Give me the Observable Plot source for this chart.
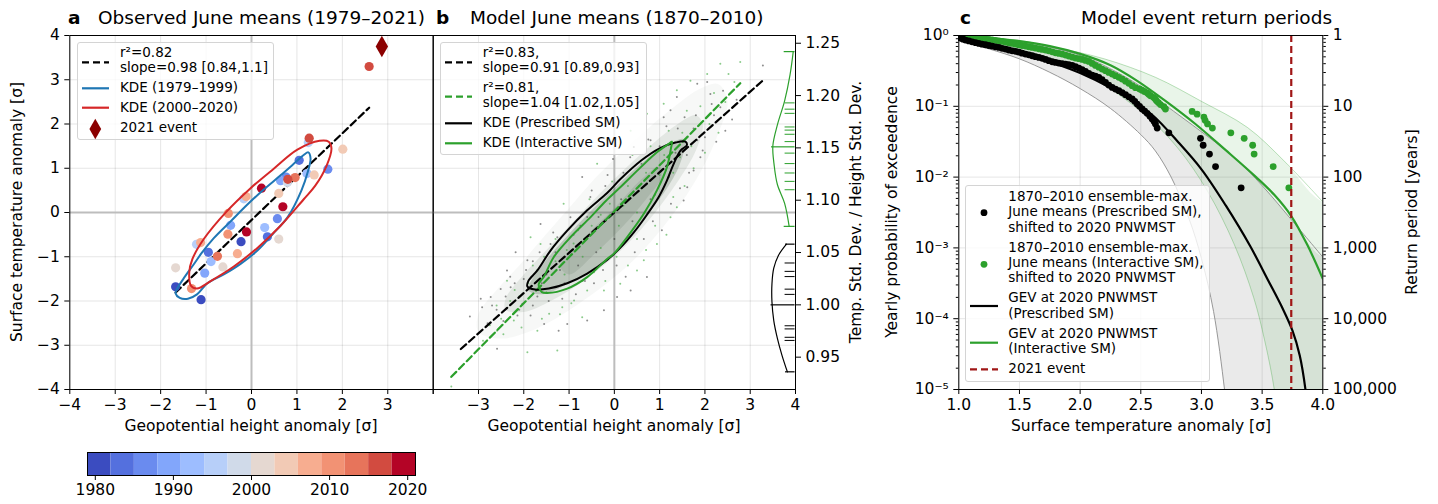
<!DOCTYPE html>
<html>
<head>
<meta charset="utf-8">
<script src="https://cdn.jsdelivr.net/npm/d3@7"></script>
<script src="https://cdn.jsdelivr.net/npm/@observablehq/plot@0.6"></script>
<style>
  body { margin: 0; background: #fff; font-family: "DejaVu Sans", sans-serif; }
  #fig { position: relative; width: 1438px; height: 504px; overflow: hidden; background: #fff; }
  #fig > svg { position: absolute; overflow: visible; }
  .t { position: absolute; white-space: nowrap; color: #000; line-height: 1; font-family: "DejaVu Sans", sans-serif; }
  .box { position: absolute; background: rgba(255,255,255,0.8); border: 1px solid #d4d4d4; border-radius: 3px; box-sizing: border-box; }
</style>
</head>
<body>
<div id="fig"></div>
<script>
// ---------- Panel a: observed June means, 1979–2020 ----------
const obsYear = [1979,1980,1981,1982,1983,1984,1985,1986,1987,1988,1989,1990,1991,1992,1993,1994,1995,1996,1997,
                 2000,2001,2002,2003,2004,2005,2006,2007,2008,2009,2010,2011,2012,2013,2015,2016,2017,2018,2019,2020];
const obsZ500 = [-1.67,-1.11,-0.23,0.35,-0.95,1.05,1.68,0.57,0.76,-0.46,-1.03,0.64,0.29,-0.89,1.22,-0.17,-1.21,1.25,0.79,
                 0.60,-0.63,-1.67,2.01,1.38,0.60,-0.31,-0.12,-1.12,-0.52,-1.32,-0.51,-0.75,0.96,2.59,1.27,0.80,0.22,0.69,-0.11];
const obsT2m  = [-1.68,-1.97,-0.66,-0.55,-0.90,1.18,0.98,-0.14,0.80,-0.29,-1.37,0.72,-0.34,-1.11,0.88,0.31,-0.72,1.58,0.68,
                 -0.60,-1.23,-1.25,1.43,0.85,0.43,-0.93,0.36,-0.68,-0.49,-1.72,-0.02,-0.99,0.79,3.30,1.68,0.75,0.55,0.13,-0.44];
const event2021 = {z500: 2.87, t2m: 3.75};
const obsFit = {slope: 0.98, intercept: -0.17, xmin: -1.67, xmax: 2.59};

// KDE contours (z500, t2m)
const kdeEarly = [[-1.65,-1.75],[-1.5,-1.5],[-1.27,-1.17],[-1.1,-0.92],[-0.83,-0.58],[-0.46,-0.2],[-0.09,0.18],[0.27,0.52],
                  [0.64,0.84],[0.93,1.1],[1.15,1.3],[1.25,1.36],[1.3,1.22],[1.24,0.92],[1.1,0.5],[0.8,-0.1],[0.5,-0.45],
                  [0.13,-0.86],[-0.24,-1.16],[-0.61,-1.4],[-0.97,-1.6],[-1.2,-1.85],[-1.4,-1.95],[-1.58,-1.93],[-1.67,-1.83]];
const kdeLate = [[-1.33,-1.66],[-1.37,-1.35],[-1.3,-1.05],[-1.05,-0.6],[-0.55,0.02],[-0.02,0.55],[0.49,0.99],[1.01,1.42],
                 [1.5,1.62],[1.7,1.6],[1.76,1.45],[1.65,1.05],[1.4,0.6],[1.15,0.3],[0.64,-0.3],[0.13,-0.8],[-0.39,-1.22],
                 [-0.9,-1.55],[-1.2,-1.72]];

// colour bins, 3 years each
const binStart = [1979,1982,1985,1988,1991,1994,1997,2000,2003,2006,2009,2012,2015,2018];
const binEnd   = [1982,1985,1988,1991,1994,1997,2000,2003,2006,2009,2012,2015,2018,2021];
const binColors = ["#3b4cc0","#5470de","#6a8bef","#82a6fb","#9dbdff","#b7cff9","#d0dae9",
                   "#e5d8d1","#f2cab5","#f7ad90","#f29274","#e7745b","#d24b40","#b40426"];
const yearTicks = [1980,1990,2000,2010,2020];

// ---------- Panel b: model June means, 1870–2010 ----------
const fitPrescribed  = {slope: 0.91, intercept: 0.00, xmin: -3.39, xmax: 3.30};
const fitInteractive = {slope: 1.04, intercept: 0.03, xmin: -3.60, xmax: 2.78};
const kdePrescribed = [[-1.92,-1.67],[-1.75,-1.74],[-1.45,-1.72],[-1.04,-1.6],[-0.6,-1.38],[-0.16,-1.07],[0.13,-0.8],
                       [0.43,-0.45],[0.72,-0.05],[0.98,0.35],[1.16,0.72],[1.31,1.1],[1.46,1.4],[1.6,1.52],[1.57,1.6],
                       [1.35,1.58],[1.0,1.45],[0.6,1.18],[0.13,0.75],[-0.16,0.44],[-0.6,0.05],[-1.04,-0.41],
                       [-1.41,-0.86],[-1.7,-1.31],[-1.9,-1.55]];
const kdeInteractive = [[-1.67,-1.62],[-1.56,-1.46],[-1.34,-1.01],[-0.97,-0.56],[-0.53,-0.11],[-0.2,0.25],[0.13,0.57],
                        [0.58,1.02],[0.94,1.36],[1.2,1.55],[1.27,1.6],[1.25,1.45],[1.16,1.02],[0.94,0.5],[0.65,-0.03],
                        [0.28,-0.56],[-0.01,-0.93],[-0.16,-1.05],[-0.6,-1.46],[-1.04,-1.72],[-1.48,-1.82],[-1.6,-1.8]];
// envelopes of the member cloud, sparse to dense
const cloudOuter = [[-3.0,-2.3],[-2.6,-1.75],[-2.1,-1.2],[-1.6,-0.6],[-1.0,0.1],[-0.4,0.8],[0.2,1.4],[0.8,1.95],[1.4,2.45],
                    [1.9,2.8],[2.3,2.9],[2.5,2.5],[2.3,1.8],[2.0,1.1],[1.6,0.4],[1.1,-0.3],[0.5,-1.0],[-0.1,-1.55],
                    [-0.7,-2.0],[-1.3,-2.4],[-1.9,-2.7],[-2.5,-2.85],[-3.0,-2.7]];
const cloudMid = [[-2.4,-1.95],[-2.0,-1.4],[-1.5,-0.85],[-0.9,-0.2],[-0.3,0.45],[0.3,1.05],[0.9,1.6],[1.4,2.0],[1.8,2.2],
                  [1.95,2.0],[1.8,1.4],[1.4,0.7],[0.9,0.0],[0.3,-0.7],[-0.3,-1.25],[-0.9,-1.7],[-1.5,-2.05],[-2.0,-2.25],[-2.4,-2.2]];
const cloudCore = [[-1.9,-1.75],[-1.6,-1.2],[-1.1,-0.6],[-0.5,0.05],[0.1,0.65],[0.7,1.2],[1.3,1.6],[1.55,1.65],[1.45,1.1],
                   [1.1,0.45],[0.6,-0.2],[0.1,-0.8],[-0.5,-1.3],[-1.1,-1.65],[-1.6,-1.85]];
const cloudInner = [[-1.2,-1.2],[-0.6,-0.5],[0.0,0.1],[0.6,0.75],[1.0,1.05],[1.05,0.8],[0.7,0.3],[0.2,-0.3],[-0.4,-0.9],[-1.0,-1.4]];
const membersPrescribed = [[-3.19,-2.35],[-2.95,-1.95],[-2.92,-2.14],[-2.73,-1.91],[-2.59,-3.08],[-2.51,-1.73],[-2.37,-1.31],
  [-2.29,-1.69],[-2.18,-0.90],[-2.14,-2.33],[-2.03,-2.06],[-1.92,-1.08],[-1.85,-2.33],[-1.63,-0.26],[-1.55,-2.52],[-1.41,-0.71],
  [-1.26,-0.56],[-1.23,-2.67],[-1.04,-2.52],[-0.97,-0.11],[-0.71,0.80],[-0.53,0.35],[-0.60,-2.44],[-0.23,-2.21],[-0.03,1.21],
  [0.06,-1.91],[0.36,-1.76],[0.43,1.48],[0.72,-1.46],[0.80,1.63],[1.09,2.15],[1.24,2.31],[1.38,2.61],[1.53,0.27],[1.61,0.57],
  [1.75,0.95],[1.83,1.63],[1.90,1.25],[2.05,2.95],[2.34,2.38],[2.45,1.85],[2.12,2.68],[1.83,2.91],[3.28,3.32],[2.6,2.1],
  [-2.6,-2.2],[-2.4,-1.9],[-2.2,-1.6],[-2.0,-1.5],[-1.8,-1.1],[-1.7,-1.9],[-1.5,-1.4],[-1.3,-0.9],[-1.1,-1.6],[-0.9,-0.5],
  [-0.8,-1.2],[-0.6,-0.1],[-0.4,-0.9],[-0.2,0.6],[0.0,-0.6],[0.2,0.9],[0.4,-0.2],[0.6,1.1],[0.8,0.3],[1.0,1.5],[1.2,0.8],
  [1.4,1.9],[1.6,1.3],[1.8,2.2],[2.0,1.7],[2.2,2.2],
  [-2.8,-2.5],[-2.7,-2.1],[-2.45,-2.45],[-2.3,-1.45],[-2.1,-2.2],[-1.95,-1.3],[-1.8,-2.1],[-1.65,-0.9],[-1.6,-1.6],[-1.45,-2.0],
  [-1.35,-0.45],[-1.2,-1.3],[-1.15,-1.95],[-0.95,-0.95],[-0.85,-1.85],[-0.75,-0.3],[-0.65,-1.55],[-0.5,0.5],[-0.45,-1.6],
  [-0.35,-0.1],[-0.25,-1.3],[-0.15,0.85],[0.05,-1.2],[0.15,0.3],[0.25,-1.45],[0.35,1.25],[0.45,-0.9],[0.55,0.6],[0.65,-0.6],
  [0.75,1.65],[0.85,-0.2],[0.95,1.0],[1.05,-0.4],[1.15,1.95],[1.25,0.2],[1.35,1.35],[1.45,0.55],[1.55,2.15],[1.65,0.9],
  [1.75,1.9],[1.95,1.4],[2.15,2.45],[2.25,1.6],[2.4,2.75],[2.7,2.55]];
const membersInteractive = [[-3.6,-3.93],[-2.59,-2.67],[-1.92,-3.16],[-2.37,-1.54],[-2.22,-2.44],[-1.70,-2.67],[-1.44,-2.29],
  [-1.26,-3.12],[-1.15,-2.14],[-0.89,-1.99],[-0.71,-2.37],[-0.60,-1.76],[-0.23,-1.76],[0.13,-1.61],[0.50,-1.31],[0.65,-1.08],
  [0.94,-0.71],[1.24,-0.11],[1.38,0.12],[-1.85,-0.56],[-1.63,-0.71],[-1.12,0.20],[-0.38,1.10],[-0.16,1.63],[0.36,1.85],
  [0.72,2.23],[1.09,2.46],[1.38,2.76],[1.68,2.98],[2.05,3.13],[2.34,3.36],[2.78,3.40],[2.52,3.13],
  [-2.5,-2.4],[-2.3,-2.0],[-2.1,-1.9],[-1.9,-1.6],[-1.7,-1.3],[-1.5,-1.8],[-1.3,-1.1],[-1.1,-1.4],[-0.9,-0.7],[-0.7,-1.0],
  [-0.5,-0.3],[-0.3,-0.8],[-0.1,0.2],[0.1,-0.3],[0.3,0.6],[0.5,0.0],[0.7,0.9],[0.9,0.4],[1.1,1.3],[1.3,0.9],[1.5,1.8],
  [1.7,1.5],[1.9,2.4],[2.1,2.0],
  [-2.9,-2.9],[-2.75,-2.55],[-2.6,-2.1],[-2.45,-2.75],[-2.2,-1.75],[-2.05,-2.6],[-1.9,-1.95],[-1.8,-1.2],[-1.6,-2.4],
  [-1.55,-1.0],[-1.4,-1.7],[-1.3,-0.6],[-1.2,-2.3],[-1.05,-0.85],[-0.95,-2.05],[-0.8,-0.4],[-0.7,-1.55],[-0.55,0.3],
  [-0.45,-1.35],[-0.3,-0.05],[-0.2,-1.55],[-0.05,0.7],[0.05,-1.0],[0.2,0.15],[0.3,-1.2],[0.4,1.3],[0.5,-0.6],[0.6,0.55],
  [0.7,-0.85],[0.8,1.5],[0.9,-0.3],[1.0,0.85],[1.15,-0.5],[1.2,1.85],[1.3,0.35],[1.45,1.25],[1.55,0.6],[1.6,2.3],[1.75,1.0],
  [1.85,1.95],[2.0,1.35],[2.2,2.7],[2.3,1.8],[2.45,2.5],[2.65,2.95]];

// marginal distributions of the std-dev ratio
const ratioKdeInteractive = [[3.95,1.242],[3.88,1.22],[3.76,1.195],[3.6,1.172],[3.5,1.152],[3.53,1.133],[3.6,1.115],[3.76,1.097],[3.86,1.075]];
const ratioKdePrescribed  = [[3.8,1.058],[3.62,1.047],[3.52,1.035],[3.48,1.02],[3.48,1.003],[3.52,0.985],[3.6,0.968],[3.7,0.952],[3.82,0.936]];
const ratiosInteractive = [1.193,1.187,1.183,1.170,1.167,1.163,1.156,1.145,1.135,1.126,1.118,1.110];
const ratioRangeInteractive = [1.242,1.075];
const ratioMedianInteractive = 1.151;
const ratiosPrescribed = [1.040,1.032,1.027,1.015,1.010,0.980,0.977,0.969,0.966];
const ratioRangePrescribed = [1.058,0.936];
const ratioMedianPrescribed = 1.000;
const ratioTicks = [0.95,1.00,1.05,1.10,1.15,1.20,1.25];

// ---------- Panel c: return periods (probabilities as log10) ----------
const empPrescribed = [[1.000,-0.030],[1.014,-0.037],[1.035,-0.052],[1.055,-0.065],[1.083,-0.076],[1.110,-0.089],[1.138,-0.101],
  [1.165,-0.112],[1.192,-0.122],[1.220,-0.131],[1.248,-0.141],[1.275,-0.150],[1.302,-0.160],[1.330,-0.169],[1.357,-0.181],
  [1.385,-0.192],[1.412,-0.205],[1.440,-0.216],[1.468,-0.224],[1.495,-0.235],[1.522,-0.250],[1.550,-0.263],[1.578,-0.273],
  [1.605,-0.286],[1.632,-0.299],[1.660,-0.310],[1.688,-0.322],[1.715,-0.338],[1.742,-0.356],[1.770,-0.371],[1.797,-0.381],
  [1.824,-0.390],[1.852,-0.396],[1.879,-0.404],[1.906,-0.412],[1.934,-0.423],[1.962,-0.440],[1.989,-0.460],[2.016,-0.484],
  [2.044,-0.507],[2.071,-0.535],[2.099,-0.559],[2.126,-0.575],[2.154,-0.592],[2.181,-0.625],[2.209,-0.662],[2.236,-0.700],
  [2.264,-0.733],[2.291,-0.757],[2.319,-0.780],[2.346,-0.806],[2.374,-0.836],[2.401,-0.866],[2.429,-0.897],[2.450,-0.930],
  [2.470,-0.968],[2.490,-1.000],[2.511,-1.038],[2.532,-1.068],[2.552,-1.099],[2.575,-1.140],[2.594,-1.179],[2.610,-1.215],
  [2.621,-1.249],[2.635,-1.307],[2.731,-1.374],[2.992,-1.453],[3.014,-1.550],[3.066,-1.675],[3.116,-1.851],[3.327,-2.152]];
const empInteractive = [[1.000,-0.012],[1.028,-0.018],[1.055,-0.020],[1.083,-0.023],[1.110,-0.027],[1.138,-0.032],[1.165,-0.037],
  [1.193,-0.042],[1.220,-0.049],[1.248,-0.056],[1.275,-0.063],[1.302,-0.070],[1.330,-0.077],[1.357,-0.084],[1.385,-0.093],
  [1.412,-0.103],[1.440,-0.112],[1.467,-0.122],[1.495,-0.131],[1.522,-0.141],[1.550,-0.150],[1.577,-0.159],[1.605,-0.168],
  [1.632,-0.178],[1.660,-0.187],[1.687,-0.197],[1.715,-0.206],[1.742,-0.216],[1.770,-0.230],[1.797,-0.244],[1.825,-0.253],
  [1.852,-0.263],[1.880,-0.277],[1.907,-0.291],[1.935,-0.305],[1.962,-0.319],[1.990,-0.328],[2.017,-0.338],[2.044,-0.352],
  [2.071,-0.366],[2.099,-0.394],[2.126,-0.423],[2.154,-0.448],[2.181,-0.474],[2.209,-0.497],[2.236,-0.521],[2.264,-0.545],
  [2.291,-0.568],[2.319,-0.591],[2.346,-0.615],[2.374,-0.645],[2.401,-0.676],[2.429,-0.709],[2.456,-0.737],[2.490,-0.754],
  [2.510,-0.772],[2.530,-0.791],[2.552,-0.810],[2.565,-0.830],[2.580,-0.851],[2.607,-0.874],[2.620,-0.897],[2.630,-0.922],
  [2.645,-0.948],[2.662,-0.976],[2.690,-1.006],[2.703,-1.038],[2.923,-1.073],[2.964,-1.111],[3.020,-1.152],[3.030,-1.198],
  [3.050,-1.249],[3.090,-1.307],[3.242,-1.374],[3.352,-1.453],[3.422,-1.550],[3.434,-1.675],[3.591,-1.851],[3.720,-2.152]];
const gevPrescribed = [[1.0,-0.04],[1.25,-0.12],[1.5,-0.23],[1.75,-0.37],[2.0,-0.53],[2.25,-0.74],[2.45,-0.95],[2.6,-1.13],
  [2.8,-1.49],[3.0,-1.89],[3.2,-2.4],[3.4,-2.97],[3.55,-3.46],[3.67,-3.86],[3.75,-4.17],[3.81,-4.52],[3.857,-5.0],[3.88,-5.4]];
const gevInteractive = [[1.0,-0.01],[1.25,-0.035],[1.5,-0.08],[1.75,-0.15],[2.0,-0.26],[2.25,-0.42],[2.47,-0.64],[2.7,-0.92],
  [2.95,-1.25],[3.2,-1.62],[3.45,-2.0],[3.6,-2.25],[3.74,-2.55],[3.87,-2.95],[4.0,-3.435]];
const ciPrescribedUpper = [[1.0,-0.01],[1.5,-0.08],[2.0,-0.28],[2.25,-0.47],[2.5,-0.72],[2.7,-0.98],[3.0,-1.36],[3.27,-1.72],
  [3.5,-2.12],[3.75,-2.62],[4.0,-3.13]];
const ciPrescribedLower = [[1.0,-0.07],[1.25,-0.19],[1.5,-0.33],[1.75,-0.52],[2.0,-0.75],[2.25,-1.03],[2.5,-1.4],[2.62,-1.63],
  [2.75,-2.0],[2.9,-2.6],[3.0,-3.15],[3.1,-3.9],[3.19,-5.0],[3.22,-5.5]];
const ciInteractiveUpper = [[1.0,-0.005],[1.25,-0.03],[1.5,-0.07],[1.8,-0.17],[2.2,-0.33],[2.62,-0.59],[3.0,-0.93],[3.38,-1.3],
  [3.68,-1.77],[4.0,-2.35]];
const ciInteractiveLower = [[1.0,-0.03],[1.5,-0.2],[2.0,-0.5],[2.5,-1.07],[2.8,-1.58],[3.05,-2.2],[3.27,-2.95],[3.43,-3.7],
  [3.52,-4.3],[3.6,-5.0],[3.63,-5.5]];
const event2021T = 3.74;
const probTicks = [1, 1e-1, 1e-2, 1e-3, 1e-4, 1e-5];
const tempTicks = [1.0,1.5,2.0,2.5,3.0,3.5,4.0];

// ---------- helpers ----------
const FONT = '"DejaVu Sans", sans-serif';
const GREEN = "#2ca02c";
const BLUE = "#1f77b4";
const RED = "#d62728";
const DARKRED = "#8b0000";
const fig = document.getElementById("fig");
const baseStyle = {fontFamily: FONT, fontSize: "15.5px", background: "none", overflow: "visible", color: "#000"};
const minus = d => (d < 0 ? "\u2212" : "") + Math.abs(d);
const supMap = {"0":"\u2070","1":"\u00b9","2":"\u00b2","3":"\u00b3","4":"\u2074","5":"\u2075","-":"\u207b"};
const powFmt = p => "10" + String(Math.round(Math.log10(p))).split("").map(c => supMap[c]).join("");
const pts = a => a.map(([x, y]) => ({x, y}));
const ptsLog = a => a.map(([x, l]) => ({x, p: Math.pow(10, l)}));
const fitLine = f => [{x: f.xmin, y: f.slope * f.xmin + f.intercept}, {x: f.xmax, y: f.slope * f.xmax + f.intercept}];
const colorScale = {type: "threshold", domain: binStart.slice(1), range: binColors};

function place(svg, left, top) {
  svg.style.left = left + "px";
  svg.style.top = top + "px";
  fig.appendChild(svg);
}
function txt(s, x, y, o = {}) {
  const d = document.createElement("div");
  d.className = "t";
  d.textContent = s;
  d.style.left = x + "px";
  d.style.top = y + "px";
  d.style.fontSize = (o.size || 15.5) + "px";
  if (o.bold) d.style.fontWeight = "bold";
  const ax = o.anchor === "middle" ? "-50%" : o.anchor === "end" ? "-100%" : "0";
  d.style.transform = `translate(${ax},-50%)` + (o.rotate ? " rotate(-90deg)" : "");
  fig.appendChild(d);
}
function box(x, y, w, h) {
  const d = document.createElement("div");
  d.className = "box";
  Object.assign(d.style, {left: x + "px", top: y + "px", width: w + "px", height: h + "px"});
  fig.appendChild(d);
}

const abTicks = [-4,-3,-2,-1,0,1,2,3,4];

// ---------- panel a ----------
const obs = obsYear.map((year, i) => ({year, x: obsZ500[i], y: obsT2m[i]}));
place(Plot.plot({
  width: 440, height: 440, marginLeft: 69.3, marginRight: 7.3, marginTop: 35, marginBottom: 51,
  style: baseStyle,
  x: {domain: [-4, 4]}, y: {domain: [-4, 4]},
  color: colorScale,
  marks: [
    Plot.gridX(abTicks, {stroke: "#000", strokeOpacity: 0.1}),
    Plot.gridY(abTicks, {stroke: "#000", strokeOpacity: 0.1}),
    Plot.ruleX([0], {stroke: "#bdbdbd", strokeWidth: 2}),
    Plot.ruleY([0], {stroke: "#bdbdbd", strokeWidth: 2}),
    Plot.line(fitLine(obsFit), {x: "x", y: "y", stroke: "#000", strokeWidth: 2.2, strokeDasharray: "7,4"}),
    Plot.dot(obs, {x: "x", y: "y", fill: "year", r: 4.6}),
    Plot.line(pts(kdeEarly), {x: "x", y: "y", curve: "catmull-rom-closed", stroke: BLUE, strokeWidth: 2}),
    Plot.line(pts(kdeLate), {x: "x", y: "y", curve: "catmull-rom-closed", stroke: RED, strokeWidth: 2}),
    Plot.dot([event2021], {x: "z500", y: "t2m", symbol: "diamond", fill: DARKRED, r: 6.5}),
    Plot.axisX({ticks: abTicks, label: null, tickSize: 5, tickPadding: 4, tickFormat: d => d === 4 ? "" : minus(d)}),
    Plot.axisY({ticks: abTicks, label: null, tickSize: 5, tickPadding: 5, tickFormat: minus}),
    Plot.frame({stroke: "#000"})
  ]
}), 0, 0);

// ---------- panel b ----------
const polyStyle = {x: "x", y: "y", curve: "catmull-rom-closed", stroke: "none", fill: "#4b654b", clip: true};
place(Plot.plot({
  width: 460, height: 440, marginLeft: 32.7, marginRight: 65, marginTop: 35, marginBottom: 51,
  style: baseStyle,
  x: {domain: [-4, 4]}, y: {domain: [-4, 4], axis: null},
  marks: [
    Plot.gridX(abTicks, {stroke: "#000", strokeOpacity: 0.1}),
    Plot.gridY(abTicks, {stroke: "#000", strokeOpacity: 0.1}),
    Plot.ruleX([0], {stroke: "#bdbdbd", strokeWidth: 2}),
    Plot.ruleY([0], {stroke: "#bdbdbd", strokeWidth: 2}),
    Plot.line(pts(cloudOuter), {...polyStyle, fillOpacity: 0.045}),
    Plot.line(pts(cloudMid), {...polyStyle, fillOpacity: 0.11}),
    Plot.line(pts(cloudCore), {...polyStyle, fillOpacity: 0.26}),
    Plot.line(pts(cloudInner), {...polyStyle, fillOpacity: 0.14}),
    Plot.dot(pts(membersPrescribed), {x: "x", y: "y", r: 1, fill: "#333", fillOpacity: 0.55, clip: true}),
    Plot.dot(pts(membersInteractive), {x: "x", y: "y", r: 1, fill: GREEN, fillOpacity: 0.55, clip: true}),
    Plot.line(fitLine(fitPrescribed), {x: "x", y: "y", stroke: "#000", strokeWidth: 2.2, strokeDasharray: "7,4"}),
    Plot.line(fitLine(fitInteractive), {x: "x", y: "y", stroke: GREEN, strokeWidth: 2.2, strokeDasharray: "7,4", clip: true}),
    Plot.line(pts(kdePrescribed), {x: "x", y: "y", curve: "catmull-rom-closed", stroke: "#000", strokeWidth: 2}),
    Plot.line(pts(kdeInteractive), {x: "x", y: "y", curve: "catmull-rom-closed", stroke: GREEN, strokeWidth: 2}),
    Plot.axisX({ticks: abTicks, label: null, tickSize: 5, tickPadding: 4, tickFormat: d => d === -4 ? "" : minus(d)}),
    Plot.frame({stroke: "#000"})
  ]
}), 400, 0);

// marginal std-dev ratio axis on the right of panel b
place(Plot.plot({
  width: 460, height: 440, marginLeft: 32.7, marginRight: 65, marginTop: 35, marginBottom: 51,
  style: baseStyle,
  x: {domain: [-4, 4], axis: null}, y: {domain: [0.9191, 1.2574]},
  marks: [
    Plot.line(pts(ratioKdeInteractive), {x: "x", y: "y", curve: "catmull-rom", stroke: GREEN, strokeWidth: 1.2}),
    Plot.ruleY(ratiosInteractive, {x1: 3.77, x2: 3.99, stroke: GREEN, strokeWidth: 1}),
    Plot.ruleY(ratioRangeInteractive, {x1: 3.75, x2: 3.99, stroke: GREEN, strokeWidth: 1.2}),
    Plot.ruleY([ratioMedianInteractive], {x1: 3.47, x2: 3.99, stroke: GREEN, strokeWidth: 1.2}),
    Plot.line(pts(ratioKdePrescribed), {x: "x", y: "y", curve: "catmull-rom", stroke: "#000", strokeWidth: 1.2}),
    Plot.ruleY(ratiosPrescribed, {x1: 3.77, x2: 3.99, stroke: "#000", strokeWidth: 1}),
    Plot.ruleY(ratioRangePrescribed, {x1: 3.78, x2: 3.99, stroke: "#000", strokeWidth: 1.2}),
    Plot.ruleY([ratioMedianPrescribed], {x1: 3.46, x2: 3.99, stroke: "#000", strokeWidth: 1.2}),
    Plot.axisY({anchor: "right", ticks: ratioTicks, label: null, tickSize: 5, tickPadding: 5, tickFormat: d => d.toFixed(2)})
  ]
}), 400, 0);

// ---------- panel c ----------
const bandPolygon = (upper, lower) => [
  ...upper,
  [4.3, upper[upper.length - 1][1]], [4.3, -6.5], [lower[lower.length - 1][0] + 0.05, -6.5],
  ...lower.slice().reverse()
];
const minorProb = [];
for (let e = -5; e < 0; e++) for (let k = 2; k <= 9; k++) minorProb.push(k * Math.pow(10, e));
place(Plot.plot({
  width: 520, height: 440, marginLeft: 78.3, marginRight: 77.7, marginTop: 35, marginBottom: 51,
  style: baseStyle,
  x: {domain: [1, 4]}, y: {type: "log", domain: [1e-5, 1]},
  marks: [
    Plot.gridX(tempTicks, {stroke: "#000", strokeOpacity: 0.1}),
    Plot.gridY(probTicks, {stroke: "#000", strokeOpacity: 0.1}),
    Plot.line(ptsLog(bandPolygon(ciPrescribedUpper, ciPrescribedLower)), {x: "x", y: "p", curve: "catmull-rom", stroke: "none", fill: "#808080", fillOpacity: 0.17, clip: true}),
    Plot.line(ptsLog(bandPolygon(ciInteractiveUpper, ciInteractiveLower)), {x: "x", y: "p", curve: "catmull-rom", stroke: "none", fill: GREEN, fillOpacity: 0.1, clip: true}),
    Plot.line(ptsLog(ciPrescribedUpper), {x: "x", y: "p", curve: "catmull-rom", stroke: "#8c8c8c", strokeWidth: 0.9, clip: true}),
    Plot.line(ptsLog(ciPrescribedLower), {x: "x", y: "p", curve: "catmull-rom", stroke: "#8c8c8c", strokeWidth: 0.9, clip: true}),
    Plot.line(ptsLog(ciInteractiveUpper), {x: "x", y: "p", curve: "catmull-rom", stroke: GREEN, strokeOpacity: 0.35, strokeWidth: 0.9, clip: true}),
    Plot.line(ptsLog(ciInteractiveLower), {x: "x", y: "p", curve: "catmull-rom", stroke: GREEN, strokeOpacity: 0.35, strokeWidth: 0.9, clip: true}),
    Plot.line(ptsLog(gevPrescribed), {x: "x", y: "p", curve: "catmull-rom", stroke: "#000", strokeWidth: 2.2, clip: true}),
    Plot.line(ptsLog(gevInteractive), {x: "x", y: "p", curve: "catmull-rom", stroke: GREEN, strokeWidth: 2.2, clip: true}),
    Plot.dot(ptsLog(empInteractive), {x: "x", y: "p", r: 3.4, fill: GREEN, clip: true}),
    Plot.dot(ptsLog(empPrescribed), {x: "x", y: "p", r: 3.4, fill: "#000", clip: true}),
    Plot.ruleX([event2021T], {stroke: "#a01616", strokeWidth: 2.2, strokeDasharray: "7,4"}),
    Plot.axisX({ticks: tempTicks, label: null, tickSize: 5, tickPadding: 4, tickFormat: d => d.toFixed(1)}),
    Plot.axisY({anchor: "left", ticks: probTicks, label: null, tickSize: 5, tickPadding: 5, tickFormat: powFmt}),
    Plot.axisY({anchor: "left", ticks: minorProb, label: null, tickSize: 2.5, tickPadding: 0, tickFormat: () => ""}),
    Plot.axisY({anchor: "right", ticks: probTicks, label: null, tickSize: 5, tickPadding: 5, tickFormat: p => d3.format(",")(Math.round(1 / p))}),
    Plot.axisY({anchor: "right", ticks: minorProb, label: null, tickSize: 2.5, tickPadding: 0, tickFormat: () => ""}),
    Plot.frame({stroke: "#000"})
  ]
}), 880, 0);

// ---------- colour bar ----------
const bins = binStart.map((start, i) => ({start, end: binEnd[i]}));
place(Plot.plot({
  width: 380, height: 64, marginLeft: 27, marginRight: 25, marginTop: 12, marginBottom: 29,
  style: baseStyle,
  x: {domain: [1979, 2021]},
  color: colorScale,
  marks: [
    Plot.rect(bins, {x1: "start", x2: "end", fill: "start"}),
    Plot.axisX({ticks: yearTicks, label: null, tickSize: 5, tickPadding: 3, tickFormat: d => String(d)}),
    Plot.frame({stroke: "#000"})
  ]
}), 60, 440);

// ---------- titles and axis labels ----------
txt("a", 68, 18, {size: 18.5, bold: true});
txt("Observed June means (1979\u20132021)", 98, 18, {size: 18.5});
txt("b", 436, 18, {size: 18.5, bold: true});
txt("Model June means (1870\u20132010)", 470, 18, {size: 18.5});
txt("c", 960, 18, {size: 18.5, bold: true});
txt("Model event return periods", 1081, 18, {size: 18.5});
txt("Surface temperature anomaly [\u03c3]", 18, 212, {anchor: "middle", rotate: true});
txt("Geopotential height anomaly [\u03c3]", 251, 427, {anchor: "middle"});
txt("Geopotential height anomaly [\u03c3]", 614, 427, {anchor: "middle"});
txt("Temp. Std. Dev. / Height Std. Dev.", 857, 212, {anchor: "middle", rotate: true});
txt("Yearly probability of exceedence", 893, 212, {anchor: "middle", rotate: true});
txt("Surface temperature anomaly [\u03c3]", 1141, 427, {anchor: "middle"});
txt("Return period [years]", 1413, 212, {anchor: "middle", rotate: true});

// ---------- legends ----------
box(77, 42, 197, 98);
box(439.5, 42, 207, 113);
box(965, 185, 245, 197);

const handles = d3.create("svg").attr("width", 1438).attr("height", 504)
  .style("position", "absolute").style("left", "0px").style("top", "0px");
const hline = (x1, x2, y, color, dash) => handles.append("line")
  .attr("x1", x1).attr("x2", x2).attr("y1", y).attr("y2", y)
  .attr("stroke", color).attr("stroke-width", 2.2).attr("stroke-dasharray", dash || null);
hline(82, 109, 62.3, "#000", "7,4");
hline(82, 109, 88.3, BLUE);
hline(82, 109, 107.7, RED);
handles.append("path").attr("d", d3.symbol(d3.symbolDiamond, 120)()).attr("transform", "translate(95.3,129)").attr("fill", DARKRED);
hline(445, 472, 62.3, "#000", "7,4");
hline(445, 472, 96.7, GREEN, "7,4");
hline(445, 472, 123.3, "#000");
hline(445, 472, 143.3, GREEN);
handles.append("circle").attr("cx", 984).attr("cy", 212.7).attr("r", 3.4).attr("fill", "#000");
handles.append("circle").attr("cx", 984).attr("cy", 264.3).attr("r", 3.4).attr("fill", GREEN);
hline(970, 998, 306, "#000");
hline(970, 998, 342.7, GREEN);
hline(970, 998, 369.3, "#a01616", "7,4");
fig.appendChild(handles.node());

const L = 13.5;
txt("r\u00b2=0.82", 120, 52.7, {size: L});
txt("slope=0.98 [0.84,1.1]", 120, 68.3, {size: L});
txt("KDE (1979\u20131999)", 120, 88.3, {size: L});
txt("KDE (2000\u20132020)", 120, 107.7, {size: L});
txt("2021 event", 120, 128, {size: L});

txt("r\u00b2=0.83,", 482.7, 53.3, {size: L});
txt("slope=0.91 [0.89,0.93]", 482.7, 68.3, {size: L});
txt("r\u00b2=0.81,", 482.7, 88.3, {size: L});
txt("slope=1.04 [1.02,1.05]", 482.7, 102.7, {size: L});
txt("KDE (Prescribed SM)", 482.7, 123.3, {size: L});
txt("KDE (Interactive SM)", 482.7, 143.3, {size: L});

txt("1870\u20132010 ensemble-max.", 1008.3, 196.7, {size: L});
txt("June means (Prescribed SM),", 1008.3, 212.3, {size: L});
txt("shifted to 2020 PNWMST", 1008.3, 227.7, {size: L});
txt("1870\u20132010 ensemble-max.", 1008.3, 248.3, {size: L});
txt("June means (Interactive SM),", 1008.3, 263.3, {size: L});
txt("shifted to 2020 PNWMST", 1008.3, 278.3, {size: L});
txt("GEV at 2020 PNWMST", 1008.3, 298.3, {size: L});
txt("(Prescribed SM)", 1008.3, 314, {size: L});
txt("GEV at 2020 PNWMST", 1008.3, 334, {size: L});
txt("(Interactive SM)", 1008.3, 349.3, {size: L});
txt("2021 event", 1008.3, 369.3, {size: L});
</script>
</body>
</html>
